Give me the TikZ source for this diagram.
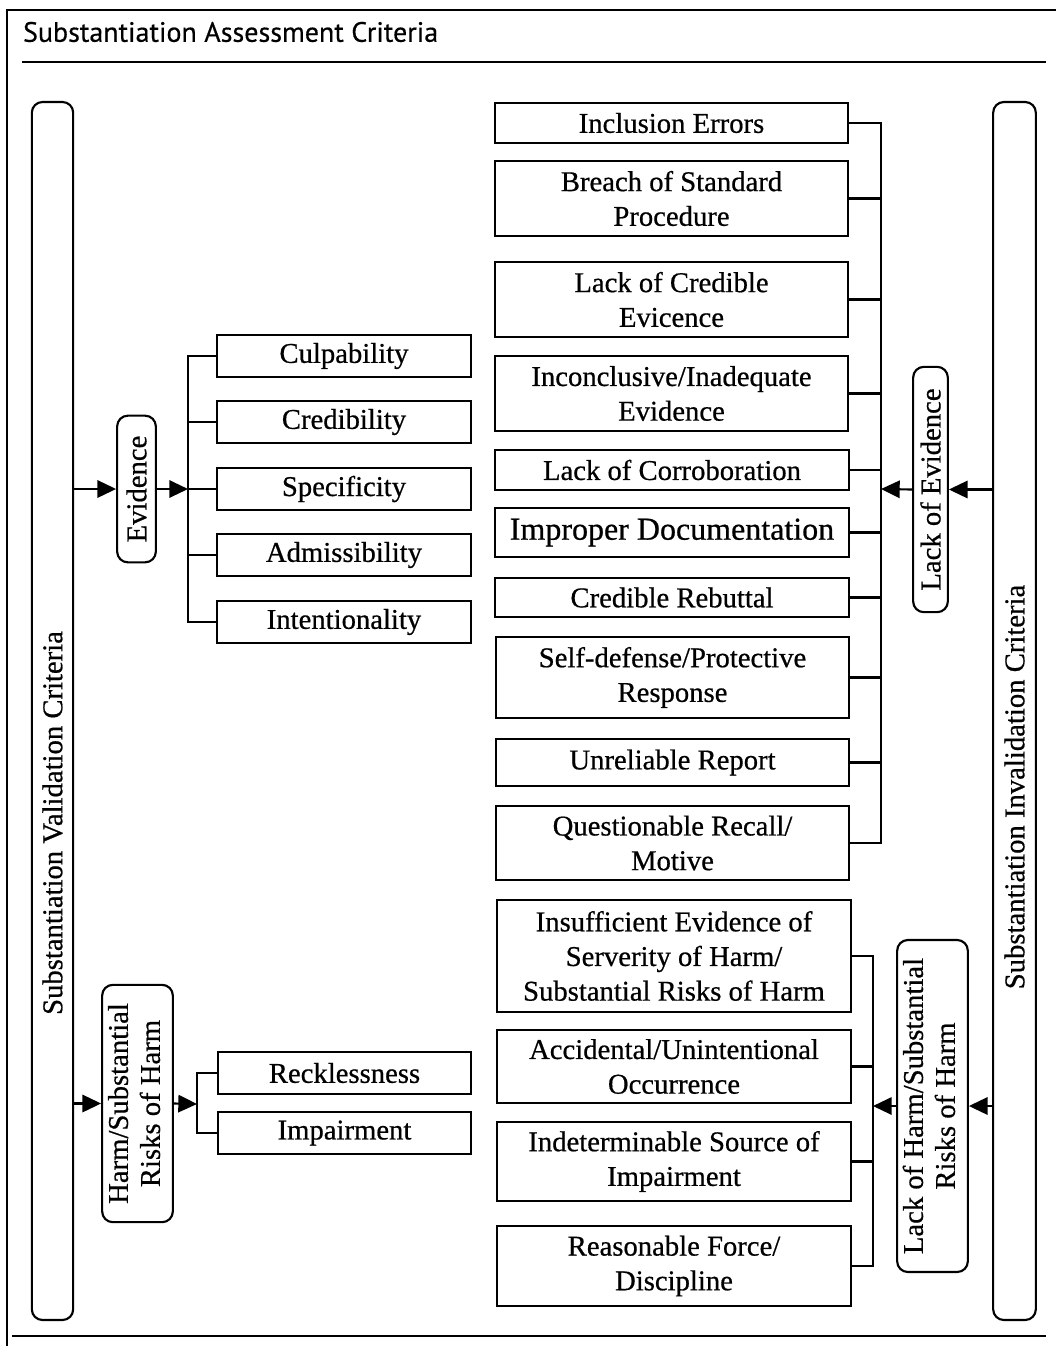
\documentclass[tikz,border=0pt]{standalone}
\usepackage{fontspec}
\setmainfont{Liberation Serif}[FakeBold=0.6]
\newfontfamily\titlefont{PT Sans}[FakeBold=0.4]
\usetikzlibrary{arrows.meta}

\begin{document}
\begin{tikzpicture}[x=0.75pt, y=-0.75pt, line width=1.6pt,
  crit/.style={draw, rectangle, align=center, inner sep=2pt, font=\fontsize{21.5}{26}\selectfont},
  leftcrit/.style={crit, minimum width=190pt, minimum height=32pt},
  rightcrit/.style={crit, minimum width=265pt},
  group/.style={draw, rounded corners=8pt, align=center, inner sep=0pt, font=\fontsize{21.5}{24}\selectfont},
  arr/.style={-{Triangle[length=14pt,width=13pt]}}]
\useasboundingbox (0,0) rectangle (1056,1346);

% frame and title
\draw[line width=1pt] (7,1346) -- (7,10) -- (1056,10);
\node[anchor=west, inner sep=0pt, font=\titlefont\fontsize{21}{25}\selectfont] (title) at (22,32) {Substantiation Assessment Criteria};
\draw[line width=2.2pt] (22,62) -- (1046,62);
\draw[line width=2.2pt] (12,1336) -- (1046,1336);

% the two tall boxes
\node[group, minimum width=31pt, minimum height=913.5pt] (valid) at (52.5,711) {};
\node[rotate=90, font=\fontsize{21.5}{26}\selectfont] (validtxt) at (52.5,823) {Substantiation Validation Criteria};
\node[group, minimum width=32pt, minimum height=913.5pt] (inval) at (1014.5,711) {};
\node[rotate=90, font=\fontsize{21.5}{26}\selectfont] (invaltxt) at (1014.5,787) {Substantiation Invalidation Criteria};

% validation side
\node[group, minimum width=29pt, minimum height=110pt] (ev) at (136.5,489) {\rotatebox{90}{Evidence}};
\node[leftcrit] (culp) at (344,356) {Culpability};
\node[leftcrit] (cred) at (344,422) {Credibility};
\node[leftcrit] (spec) at (344,489) {Specificity};
\node[leftcrit] (adm) at (344,555) {Admissibility};
\node[leftcrit] (inten) at (344,622) {Intentionality};
\coordinate (evbus) at (188,489);

\node[group, minimum width=53pt, minimum height=178pt] (harm) at (137.5,1103.5) {\rotatebox{90}{\begin{tabular}{@{}c@{}}Harm/Substantial\\Risks of Harm\end{tabular}}};
\node[leftcrit, minimum height=31pt] (reck) at (344.5,1073) {Recklessness};
\node[leftcrit, minimum height=31pt] (imp) at (344.5,1133) {Impairment};
\coordinate (hbus) at (197,1104);

% invalidation side
\node[rightcrit, minimum height=30pt] (incl) at (671.5,123) {Inclusion Errors};
\node[rightcrit, minimum height=56pt] (breach) at (671.5,198.5) {Breach of Standard\\Procedure};
\node[rightcrit, minimum height=56pt] (lcred) at (671.5,299.5) {Lack of Credible\\Evicence};
\node[rightcrit, minimum height=56pt] (incon) at (671.5,393.5) {Inconclusive/Inadequate\\Evidence};
\node[rightcrit, minimum height=30pt] (lcorr) at (672,470) {Lack of Corroboration};
\node[rightcrit, minimum height=37pt, font=\fontsize{24}{28}\selectfont] (improp) at (672,532.5) {Improper Documentation};
\node[rightcrit, minimum height=29pt] (rebut) at (672,597.5) {Credible Rebuttal};
\node[rightcrit, minimum height=61pt] (self) at (672.5,677.5) {Self-defense/Protective\\Response};
\node[rightcrit, minimum height=35pt] (unrel) at (672.5,762.5) {Unreliable Report};
\node[rightcrit, minimum height=56pt] (quest) at (672.5,843) {Questionable Recall/\\Motive};
\node[group, minimum width=26pt, minimum height=184pt] (loe) at (930.5,489.5) {\rotatebox{90}{Lack of Evidence}};
\coordinate (lebus) at (881,489);

\node[rightcrit, minimum height=84pt] (insuf) at (674,956) {Insufficient Evidence of\\Serverity of Harm/\\Substantial Risks of Harm};
\node[rightcrit, minimum height=55pt] (accid) at (674,1066.5) {Accidental/Unintentional\\Occurrence};
\node[rightcrit, minimum height=59pt] (indet) at (674,1161.5) {Indeterminable Source of\\Impairment};
\node[rightcrit, minimum height=60pt] (reas) at (674,1266) {Reasonable Force/\\Discipline};
\node[group, minimum width=53pt, minimum height=249pt] (loh) at (932.5,1106) {\rotatebox{90}{\begin{tabular}{@{}c@{}}Lack of Harm/Substantial\\Risks of Harm\end{tabular}}};
\coordinate (lhbus) at (873,1106);

% connectors, validation
\draw[arr] (valid.east |- ev.west) to (ev.west);
\draw[arr] (ev.east) to (evbus);
\draw (culp.west) -| (evbus |- inten.west) to (inten.west);
\foreach \n in {cred,spec,adm}
  \draw (\n.west) to (\n.west -| evbus);
\draw[arr] (valid.east |- harm.west) to (harm.west);
\draw[arr] (harm.east) to (hbus);
\draw (reck.west) -| (hbus |- imp.west) to (imp.west);

% connectors, invalidation
\draw[arr] (inval.west |- loe.east) to (loe.east);
\draw[arr] (loe.west) to (lebus);
\draw (incl.east) -| (lebus |- quest.east) to (quest.east);
\foreach \n in {breach,lcred,incon,lcorr,improp,rebut,self,unrel}
  \draw (\n.east) to (\n.east -| lebus);
\draw[arr] (inval.west |- loh.east) to (loh.east);
\draw[arr] (loh.west) to (lhbus);
\draw (insuf.east) -| (lhbus |- reas.east) to (reas.east);
\foreach \n in {accid,indet}
  \draw (\n.east) to (\n.east -| lhbus);
\end{tikzpicture}
\end{document}
